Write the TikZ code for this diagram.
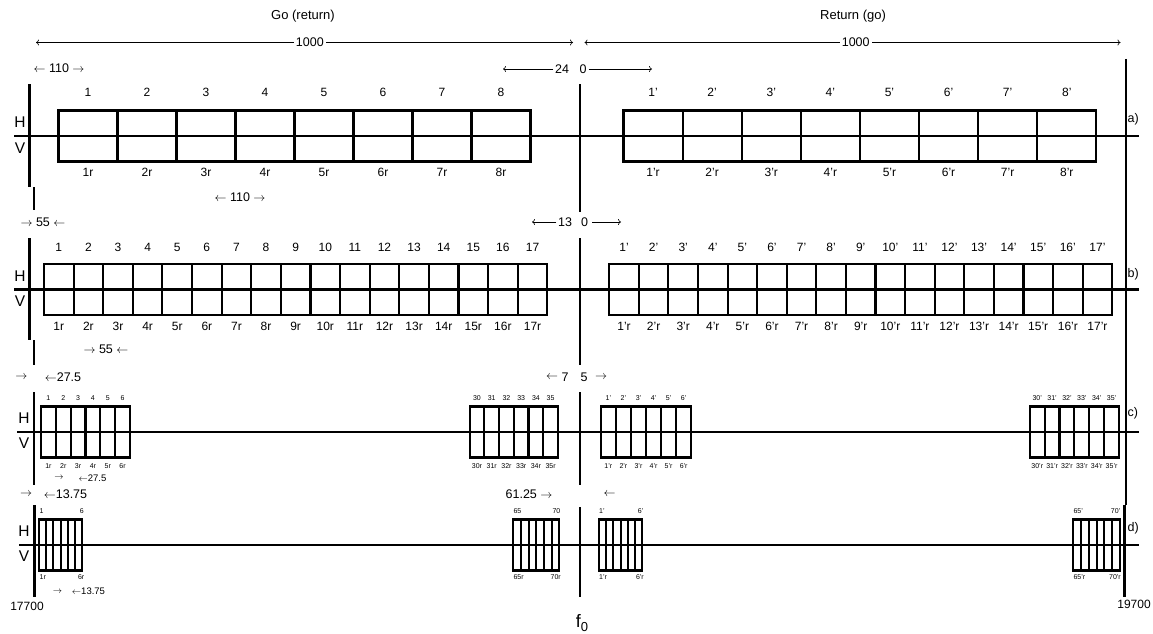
\documentclass[tikz,border=0pt]{standalone}
\usepackage{fontspec}
\setmainfont{Liberation Sans}
\usetikzlibrary{arrows.meta}
% group of n cells between x0 and x1 around axis y
\newcommand\chgrp[4]{%
  \draw[cell] (#1,#4-25.5) rectangle (#2,#4+25.5);
  \pgfmathsetmacro\cw{(#2-#1)/#3}%
  \pgfmathtruncatemacro\nm{#3-1}%
  \foreach \k in {1,...,\nm}{\draw[cell] (#1+\k*\cw,#4-25.5) -- (#1+\k*\cw,#4+25.5);}%
}
% labels: x0 x1 n ytop ybot offset topsuffix botsuffix style ; name prefix in \pfx
\newcommand\chlab[9]{%
  \pgfmathsetmacro\cw{(#2-#1)/#3}%
  \foreach \k in {1,...,#3}{%
    \pgfmathtruncatemacro\lab{\k+#6}%
    \node[#9] (\pfx T\k) at (#1+\k*\cw-0.5*\cw,#4) {{\lab}#7};
    \node[#9] (\pfx B\k) at (#1+\k*\cw-0.5*\cw,#5) {{\lab}#8};
  }%
}
\begin{document}
\begin{tikzpicture}[x=1pt,y=-1pt,
  axisline/.style={line width=2.4pt},
  bound/.style={line width=2.5pt},
  cell/.style={line width=2.1pt},
  lbl/.style={inner sep=0pt,font=\fontsize{12}{14}\selectfont},
  slbl/.style={inner sep=0pt,font=\fontsize{7}{8}\selectfont},
  ann/.style={inner sep=0pt,font=\fontsize{12.5}{14}\selectfont},
  sann/.style={inner sep=0pt,font=\fontsize{9.5}{11}\selectfont},
  hv/.style={inner sep=0pt,font=\fontsize{15.5}{17}\selectfont},
  ttl/.style={inner sep=0pt,font=\fontsize{13}{15}\selectfont},
  dimline/.style={line width=0.6pt},
  tip/.style={-{To[length=3pt,width=6pt]}},
  tips/.style={{To[length=3pt,width=6pt]}-{To[length=3pt,width=6pt]}},
]
\useasboundingbox (0,0) rectangle (1153,634);
% titles
\node[ttl] (t1) at (303,16) {Go (return)};
\node[ttl] (t2) at (853,16) {Return (go)};
% 1000 dimensions
\coordinate (L1) at (36,42.5); \coordinate (L2) at (573,42.5);
\coordinate (R1) at (584.5,42.5); \coordinate (R2) at (1120.5,42.5);
\draw[dimline,tips] (L1) -- (L2) node[pos=0.51,ann,fill=white,inner xsep=2pt] (d1) {1000};
\draw[dimline,tips] (R1) -- (R2) node[pos=0.506,ann,fill=white,inner xsep=2pt] (d2) {1000};

% vertical boundary lines
\draw[bound] (29.3,84) -- (29.3,187);
\draw[bound] (33.8,187) -- (33.8,210);
\draw[bound] (29.3,238) -- (29.3,340);
\draw[bound] (34,340) -- (34,365);
\draw[bound] (34,392) -- (34,485);
\draw[bound] (34.3,505) -- (34.3,597);
\draw[bound] (580,84) -- (580,212);
\draw[bound] (580,238) -- (580,365);
\draw[bound] (580,392) -- (580,485);
\draw[bound] (580,507) -- (580,597);
\draw[bound] (1126,59) -- (1126,505);
\draw[bound] (1124.5,505) -- (1124.5,597);

% ---------------- row a
\node[ann] (a110) at (59,68) {$\leftarrow$ 110 $\rightarrow$};
\coordinate (p24) at (503,69);
\node[ann] (n24) at (562,69) {24};
\node[ann] (n0a) at (583,69) {0};
\coordinate (p0a) at (652,69);
\draw[dimline,tip,shorten <=1.5pt] (n24) -- (p24);
\draw[dimline,tip,shorten <=2pt] (n0a) -- (p0a);
\draw[axisline] (14,136) -- (1139,136);
\chgrp{58.5}{530.5}{8}{136}
\chgrp{623.5}{1096.3}{8}{136}
\def\pfx{aL}\chlab{58.5}{530.5}{8}{92.5}{172.5}{0}{}{r}{lbl}
\def\pfx{aR}\chlab{623.5}{1096.3}{8}{92.5}{172.5}{0}{'}{'r}{lbl}
\node[hv] (Ha) at (20,122.5) {H};
\node[hv] (Va) at (20,148) {V};
\node[ann,anchor=west] (ra) at (1127.5,119) {a)};
\node[ann] (a110b) at (240,197) {$\leftarrow$ 110 $\rightarrow$};

% ---------------- row b
\node[ann] (b55) at (43,222) {$\rightarrow$ 55 $\leftarrow$};
\coordinate (p13) at (532,222);
\node[ann] (n13) at (565,222) {13};
\node[ann] (n0b) at (584.5,222) {0};
\coordinate (p0b) at (621,222);
\draw[dimline,tip,shorten <=1.5pt] (n13) -- (p13);
\draw[dimline,tip,shorten <=4pt] (n0b) -- (p0b);
\draw[axisline] (14,289.5) -- (1139,289.5);
\chgrp{44}{547.3}{17}{289.5}
\chgrp{609.2}{1112.2}{17}{289.5}
\def\pfx{bL}\chlab{44}{547.3}{17}{247}{326}{0}{}{r}{lbl}
\def\pfx{bR}\chlab{609.2}{1112.2}{17}{247}{326}{0}{'}{'r}{lbl}
\node[hv] (Hb) at (20,276) {H};
\node[hv] (Vb) at (20,301) {V};
\node[ann,anchor=west] (rb) at (1127.5,274) {b)};
\node[ann] (b55b) at (106,349) {$\rightarrow$ 55 $\leftarrow$};

% ---------------- row c
\node[ann] (c1) at (21.5,377) {$\rightarrow$};
\node[ann] (c2) at (63,377) {$\leftarrow$27.5};
\node[ann] (c3) at (552,377) {$\leftarrow$};
\node[ann] (c4) at (565,377) {7};
\node[ann] (c5) at (584,377) {5};
\node[ann] (c6) at (601,377) {$\rightarrow$};
\draw[axisline] (17,432) -- (1139,432);
\chgrp{41}{130}{6}{432}
\chgrp{469.6}{558}{6}{432}
\chgrp{600.8}{691.2}{6}{432}
\chgrp{1029.8}{1119}{6}{432}
\def\pfx{cA}\chlab{41}{130}{6}{398.5}{466}{0}{}{r}{slbl}
\def\pfx{cB}\chlab{469.6}{558}{6}{398.5}{466}{29}{}{r}{slbl}
\def\pfx{cC}\chlab{600.8}{691.2}{6}{398.5}{466}{0}{'}{'r}{slbl}
\def\pfx{cD}\chlab{1029.8}{1119}{6}{398.5}{466}{29}{'}{'r}{slbl}
\node[hv] (Hc) at (24,418) {H};
\node[hv] (Vc) at (24,443.5) {V};
\node[ann,anchor=west] (rc) at (1127.5,413) {c)};
\node[sann] (c7) at (59,478) {$\rightarrow$};
\node[sann] (c8) at (92.5,478) {$\leftarrow$27.5};

% ---------------- row d
\node[ann] (d1a) at (26,494) {$\rightarrow$};
\node[ann] (d1b) at (65.5,494) {$\leftarrow$13.75};
\node[ann] (d61) at (529,494) {61.25 $\rightarrow$};
\node[ann] (dla) at (609.5,494) {$\leftarrow$};
\draw[axisline] (19,545) -- (1139,545);
\chgrp{39}{82.3}{6}{545}
\chgrp{513.3}{559.3}{6}{545}
\chgrp{599}{642.3}{6}{545}
\chgrp{1073.3}{1120}{6}{545}
\node[slbl,anchor=west] (dA1) at (39.5,510.7) {1};
\node[slbl,anchor=east] (dA6) at (84,510.7) {6};
\node[slbl,anchor=west] (dA1r) at (39.5,577.3) {1r};
\node[slbl,anchor=east] (dA6r) at (84.5,577.3) {6r};
\node[slbl,anchor=west] (dB1) at (513.3,510.7) {65};
\node[slbl,anchor=east] (dB6) at (560.5,510.7) {70};
\node[slbl,anchor=west] (dB1r) at (513.3,577.3) {65r};
\node[slbl,anchor=east] (dB6r) at (561,577.3) {70r};
\node[slbl,anchor=west] (dC1) at (599,510.7) {1'};
\node[slbl,anchor=east] (dC6) at (643.5,510.7) {6'};
\node[slbl,anchor=west] (dC1r) at (599,577.3) {1'r};
\node[slbl,anchor=east] (dC6r) at (644,577.3) {6'r};
\node[slbl,anchor=west] (dD1) at (1073.3,510.7) {65'};
\node[slbl,anchor=east] (dD6) at (1120.5,510.7) {70'};
\node[slbl,anchor=west] (dD1r) at (1073.3,577.3) {65'r};
\node[slbl,anchor=east] (dD6r) at (1121,577.3) {70'r};
\node[hv] (Hd) at (24,531) {H};
\node[hv] (Vd) at (24,556.5) {V};
\node[ann,anchor=west] (rd) at (1127.5,528) {d)};
\node[sann] (d2a) at (57.5,591.5) {$\rightarrow$};
\node[sann] (d2b) at (88.5,591.5) {$\leftarrow$13.75};

% frequency labels
\node[lbl] (flo) at (27,606) {17700};
\node[lbl] (fhi) at (1134,604) {19700};
\node[inner sep=0pt,font=\fontsize{18}{20}\selectfont] (f0) at (582,623) {f\raisebox{-4pt}{\fontsize{13}{15}\selectfont 0}};
\end{tikzpicture}
\end{document}
